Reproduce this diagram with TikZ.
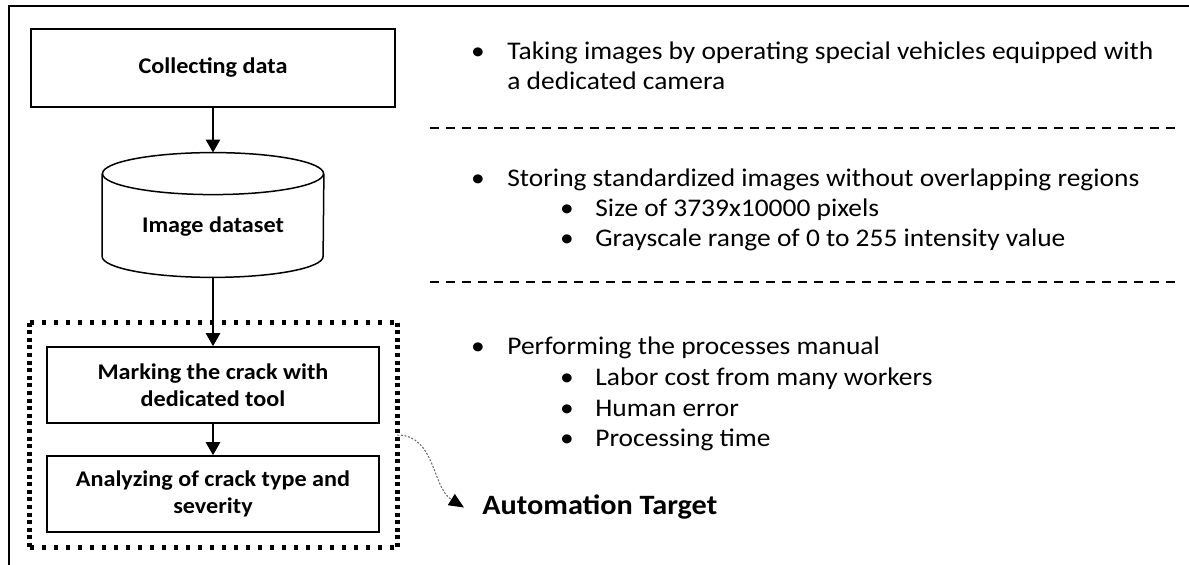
\documentclass[tikz,border=0pt]{standalone}
\usepackage{fontspec}
\setmainfont{Carlito}[FakeStretch=1.08]
\usetikzlibrary{arrows.meta,fit}

\begin{document}
\begin{tikzpicture}[x=0.5pt,y=-0.5pt,
  box/.style={draw, line width=0.75pt, align=center, inner sep=0pt,
    font=\bfseries\fontsize{11.2}{13.5}\selectfont},
  flow/.style={line width=1.25pt, -{Triangle[length=6.5pt,width=7pt]}},
  sep/.style={line width=0.9pt, dash pattern=on 4.5pt off 3.5pt},
  hdots/.style={line width=2.2pt, dash pattern=on 2.3pt off 3.7pt},
  vdots/.style={line width=2.2pt, dash pattern=on 2pt off 1.8pt},
  txt/.style={anchor=base west, inner sep=0pt, font=\fontsize{12.7}{15}\selectfont},
  bul/.style={anchor=base, inner sep=0pt, font=\fontsize{12.7}{15}\selectfont},
]
\useasboundingbox (0,0) rectangle (1189,565);

% outer frame (top and left edges)
\coordinate (fbl) at (9,565);
\coordinate (ftl) at (9,6);
\coordinate (ftr) at (1189,6);
\draw[line width=1pt] (fbl) -- (ftl) -- (ftr);

% process column
\node[box, minimum width=182pt, minimum height=39pt] (collect) at (213,68) {Collecting data};

\node[inner sep=0pt, minimum width=110.5pt, minimum height=62pt] (dataset) at (213,215) {};
\draw[line width=0.75pt] ([yshift=-10.5pt]dataset.north) ellipse[x radius=55.25pt, y radius=10.5pt];
\draw[line width=0.75pt] ([yshift=-10.5pt]dataset.north west) -- ([yshift=10.5pt]dataset.south west)
  arc[start angle=180, end angle=360, x radius=55.25pt, y radius=10.5pt]
  -- ([yshift=-10.5pt]dataset.north east);
\node[inner sep=0pt, font=\bfseries\fontsize{11.2}{13.5}\selectfont] (dstext) at (213,227) {Image dataset};

\node[box, minimum width=166pt, minimum height=38pt] (mark) at (213,385) {Marking the crack with\\dedicated tool};
\node[box, minimum width=166pt, minimum height=38pt] (analyze) at (213,494) {Analyzing of crack type and\\severity};

\draw[flow] (collect.south) -- (dataset.north);
\draw[flow] (dataset.south) -- (mark.north);
\draw[flow] (mark.south) -- (analyze.north);

% automation target group
\node[fit={(30,323) (397,547)}, inner sep=0pt] (target) {};
\draw[hdots] (target.north west) -- (target.north east);
\draw[hdots] (target.south west) -- (target.south east);
\draw[vdots] (target.north west) -- (target.south west);
\draw[vdots] (target.north east) -- (target.south east);

\node[anchor=base west, inner sep=0pt, font=\bfseries\fontsize{14}{17}\selectfont] (auto) at (482,515) {Automation Target};
\draw[black!60, line width=0.5pt, dash pattern=on 1pt off 0.8pt, -{Triangle[length=7.5pt,width=6.5pt,black]}]
  (target.east) .. controls +(38,0) and +(-32,-20) .. ([xshift=-9pt]auto.west);

% descriptions
\node[bul] (b1) at (478,60) {\textbullet};
\node[txt] (t1a) at (507,60) {Taking images by operating special vehicles equipped with};
\node[txt] (t1b) at (507,90) {a dedicated camera};

\coordinate (s1a) at (430,128);
\coordinate (s1b) at (1175,128);
\draw[sep] (s1a) -- (s1b);

\node[bul] (b2) at (478,187) {\textbullet};
\node[txt] (t2a) at (507,187) {Storing standardized images without overlapping regions};
\node[bul] (b2a) at (567,217) {\textbullet};
\node[txt] (t2b) at (595,217) {Size of 3739x10000 pixels};
\node[bul] (b2b) at (567,247) {\textbullet};
\node[txt] (t2c) at (595,247) {Grayscale range of 0 to 255 intensity value};

\coordinate (s2a) at (430,282);
\coordinate (s2b) at (1175,282);
\draw[sep] (s2a) -- (s2b);

\node[bul] (b3) at (478,355) {\textbullet};
\node[txt] (t3a) at (507,355) {Performing the processes manual};
\node[bul] (b3a) at (567,386) {\textbullet};
\node[txt] (t3b) at (595,386) {Labor cost from many workers};
\node[bul] (b3b) at (567,417) {\textbullet};
\node[txt] (t3c) at (595,417) {Human error};
\node[bul] (b3c) at (567,447) {\textbullet};
\node[txt] (t3d) at (595,447) {Processing time};
\end{tikzpicture}
\end{document}
